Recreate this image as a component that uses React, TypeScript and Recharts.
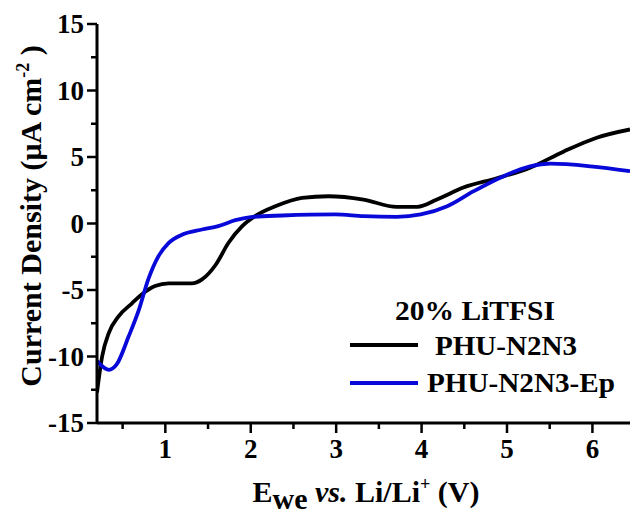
import { LineChart, Line, XAxis, YAxis } from 'recharts';

// PHU-N2N3 polarisation sweep
const phuVoltage = [0.2, 0.26, 0.34, 0.45, 0.61, 0.73, 0.88, 1.04, 1.31, 1.43, 1.59, 1.74, 1.9, 2.05, 2.29, 2.6, 2.91, 3.32, 3.71, 3.95, 4.18, 4.49, 4.88, 5.27, 5.66, 6.05, 6.44];
const phuCurrent = [-12.7, -10.0, -8.2, -7.0, -6.0, -5.3, -4.7, -4.5, -4.5, -4.2, -3.1, -1.45, -0.2, 0.55, 1.3, 1.93, 2.05, 1.8, 1.25, 1.25, 1.8, 2.7, 3.4, 4.2, 5.4, 6.45, 7.07];

// PHU-N2N3-Ep polarisation sweep
const epVoltage = [0.2, 0.34, 0.43, 0.57, 0.69, 0.8, 0.92, 1.04, 1.2, 1.43, 1.62, 1.82, 2.02, 2.37, 2.99, 3.32, 3.71, 3.99, 4.3, 4.61, 4.96, 5.27, 5.51, 5.98, 6.44];
const epCurrent = [-10.35, -11.0, -10.6, -8.5, -6.5, -4.2, -2.45, -1.45, -0.83, -0.45, -0.2, 0.25, 0.5, 0.6, 0.68, 0.55, 0.5, 0.68, 1.3, 2.43, 3.56, 4.3, 4.5, 4.3, 3.93];

const xTicks = [0.5, 1, 1.5, 2, 2.5, 3, 3.5, 4, 4.5, 5, 5.5, 6];
const yTicks = [-15, -12.5, -10, -7.5, -5, -2.5, 0, 2.5, 5, 7.5, 10, 12.5, 15];

const PHU_COLOR = '#000000';
const EP_COLOR = '#0808d8';
const FONT = '"Liberation Serif", "Times New Roman", serif';

const phuData = phuVoltage.map((v, i) => ({ v, j: phuCurrent[i] }));
const epData = epVoltage.map((v, i) => ({ v, j: epCurrent[i] }));

const XTick = ({ x, y, payload }: any) => {
  const major = Number.isInteger(payload.value);
  return (
    <g>
      <line x1={x} x2={x} y1={y} y2={y + (major ? 10 : 6)} stroke="#000" strokeWidth={2.5} />
      {major && (
        <text x={x} y={y + 35} textAnchor="middle" fontFamily={FONT} fontWeight="bold" fontSize={27} fill="#000">
          {payload.value}
        </text>
      )}
    </g>
  );
};

const YTick = ({ x, y, payload }: any) => {
  const major = payload.value % 5 === 0;
  return (
    <g>
      <line x1={x} x2={x - (major ? 10 : 6)} y1={y} y2={y} stroke="#000" strokeWidth={2.5} />
      {major && (
        <text x={x - 13} y={y + 9} textAnchor="end" fontFamily={FONT} fontWeight="bold" fontSize={27} fill="#000">
          {payload.value}
        </text>
      )}
    </g>
  );
};

const YTitle = () => (
  <text
    transform="translate(41, 216) rotate(-90)"
    textAnchor="middle"
    fontFamily={FONT}
    fontWeight="bold"
    fontSize={30}
    fill="#000"
  >
    Current Density  (μA cm
    <tspan fontSize={18} dy={-12}>-2</tspan>
    <tspan dy={12}>  )</tspan>
  </text>
);

const XTitle = () => (
  <text x={366} y={502} textAnchor="middle" fontFamily={FONT} fontWeight="bold" fontSize={30} fill="#000">
    E<tspan dy={7}>we</tspan>
    <tspan dy={-7} fontStyle="italic"> vs.</tspan> Li/Li
    <tspan fontSize={18} dy={-12}>+</tspan>
    <tspan dy={12}> (V)</tspan>
  </text>
);

const LegendBox = () => (
  <svg width={630} height={519} style={{ position: 'absolute', left: 0, top: 0, pointerEvents: 'none' }}>
    <g fontFamily={FONT} fontWeight="bold" fill="#000">
      <text x={395} y={320} fontSize={27} textLength={160} lengthAdjust="spacingAndGlyphs">20% LiTFSI</text>
      <line x1={350} x2={418} y1={345} y2={345} stroke={PHU_COLOR} strokeWidth={4} />
      <text x={435} y={355} fontSize={27} textLength={142} lengthAdjust="spacingAndGlyphs">PHU-N2N3</text>
      <line x1={350} x2={418} y1={383} y2={383} stroke={EP_COLOR} strokeWidth={4} />
      <text x={427} y={392} fontSize={27} textLength={188} lengthAdjust="spacingAndGlyphs">PHU-N2N3-Ep</text>
    </g>
  </svg>
);

export default function App() {
  return (
    <div style={{ position: 'absolute', left: 0, top: 0, width: 630, height: 519, background: '#fff' }}>
      <LineChart width={630} height={519} margin={{ top: 24, right: 0, bottom: 0, left: 0 }}>
        <XAxis
          dataKey="v"
          type="number"
          domain={[0.2, 6.44]}
          ticks={xTicks}
          allowDataOverflow
          height={96}
          tickSize={0}
          tickMargin={0}
          tickLine={false}
          tick={<XTick />}
          axisLine={{ stroke: '#000', strokeWidth: 3 }}
          label={<XTitle />}
        />
        <XAxis
          xAxisId="top"
          orientation="top"
          type="number"
          domain={[0.2, 6.44]}
          height={0}
          tick={false}
          tickLine={false}
          axisLine={{ stroke: '#000', strokeWidth: 2.5 }}
        />
        <YAxis
          type="number"
          domain={[-15, 15]}
          ticks={yTicks}
          width={97}
          tickSize={0}
          tickMargin={0}
          tickLine={false}
          tick={<YTick />}
          axisLine={{ stroke: '#000', strokeWidth: 3 }}
          label={<YTitle />}
        />
        <Line data={phuData} dataKey="j" type="monotone" stroke={PHU_COLOR} strokeWidth={3.8} dot={false} isAnimationActive={false} />
        <Line data={epData} dataKey="j" type="monotone" stroke={EP_COLOR} strokeWidth={3.8} dot={false} isAnimationActive={false} />
      </LineChart>
      <LegendBox />
    </div>
  );
}
